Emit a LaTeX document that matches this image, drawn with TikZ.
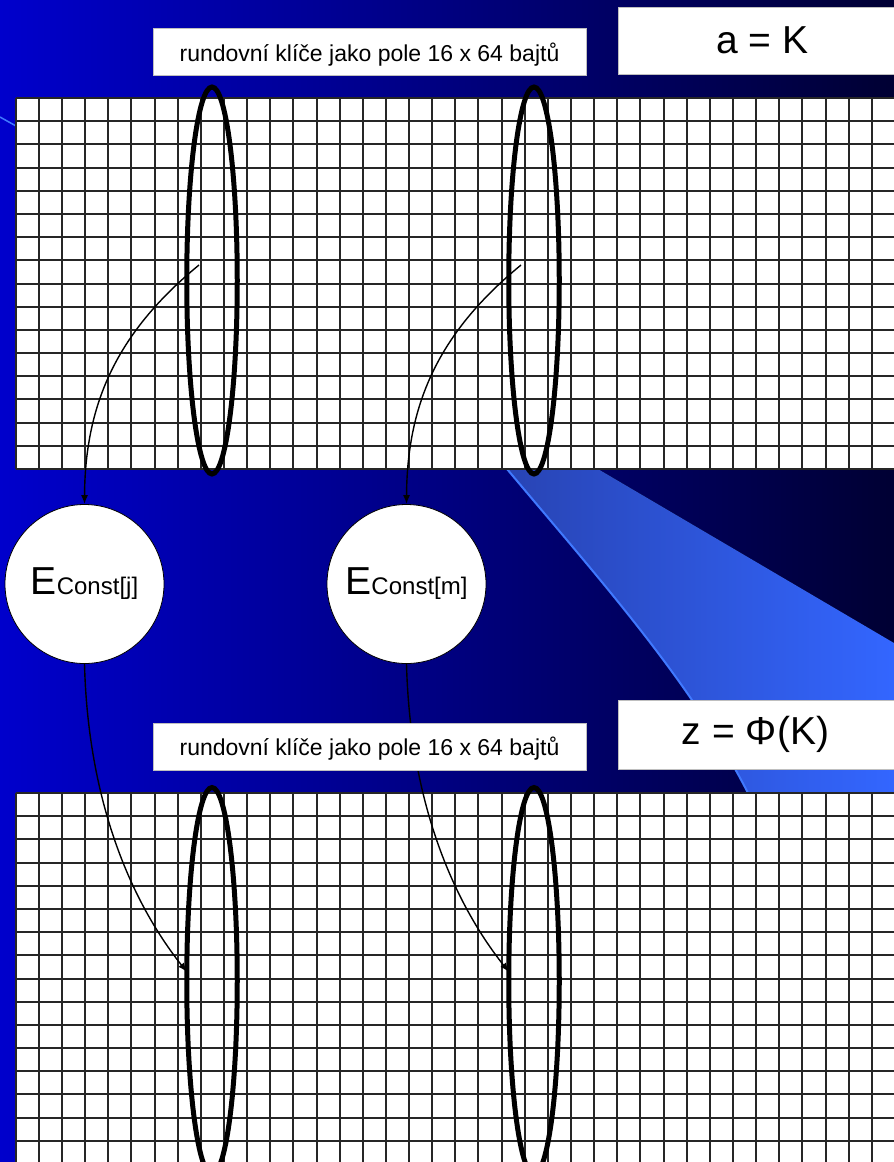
\documentclass[tikz,border=0pt]{standalone}
\usepackage{fontspec}
\setmainfont{Liberation Sans}
\usetikzlibrary{shapes.geometric,arrows.meta}
\definecolor{bgL}{HTML}{0000CC}
\definecolor{bgM}{HTML}{00008E}
\definecolor{bgR}{HTML}{000033}
\definecolor{swL}{HTML}{2844B4}
\definecolor{swR}{HTML}{3366FF}
\definecolor{swEdge}{HTML}{4079FF}
\tikzset{
  gridline/.style={black!85, line width=1.6pt},
  loopmark/.style={draw, ellipse, line width=5pt, minimum width=50.5pt, minimum height=387pt, inner sep=0pt, outer sep=0pt},
  enc/.style={circle, draw, fill=white, line width=0.8pt, minimum size=159pt, inner sep=0pt},
  flow/.style={-{Latex[length=9pt,width=7pt]}, line width=1.4pt},
  labbox/.style={fill=white, draw=gray!50, line width=0.6pt},
  labtext/.style={inner sep=0pt, anchor=base, font=\fontsize{23}{23}\selectfont},
  bigtext/.style={inner sep=0pt, font=\fontsize{39}{39}\selectfont},
}
\begin{document}
\begin{tikzpicture}[x=1pt,y=-1pt]
\useasboundingbox (0,0) rectangle (894,1162);
% background
\fill[left color=bgL, middle color=bgM, right color=bgR] (0,0) rectangle (894,1162);
% swoosh
\fill[left color=swL, right color=swR] (507,469) -- (598,469) -- (894,643) -- (894,793) -- (748,793)
  .. controls (690,680) and (600,580) .. (507,469) -- cycle;
\draw[swEdge, line width=2pt] (507,469) .. controls (600,580) and (690,680) .. (748,793);
\draw[swEdge, line width=1.5pt] (0,117) -- (16,126);
% grids
\fill[white] (15.5,98) rectangle (894,469);
\fill[white] (15.5,793) rectangle (894,1162);
\foreach \i in {0,...,37} {
  \pgfmathsetmacro{\gx}{round(15.7+\i*23.14)}
  \draw[gridline] (\gx,98) -- (\gx,469);
  \draw[gridline] (\gx,793) -- (\gx,1162);
}
\foreach \j in {0,...,16} {
  \pgfmathsetmacro{\gy}{round(98+\j*23.19)}
  \pgfmathsetmacro{\hy}{round(793+\j*23.19)}
  \draw[gridline] (15.5,\gy) -- (894,\gy);
  \draw[gridline] (15.5,\hy) -- (894,\hy);
}
% loops
\node[loopmark] (e1) at (212,280.5) {};
\node[loopmark] (e2) at (534,280.5) {};
\node[loopmark] (e3) at (212,981) {};
\node[loopmark] (e4) at (534,981) {};
% encryption circles
\node[enc] (c1) at (84.5,584) {{\fontsize{39}{39}\selectfont E}{\fontsize{24}{24}\selectfont Const[j]}};
\node[enc] (c2) at (406.5,584) {{\fontsize{39}{39}\selectfont E}{\fontsize{24}{24}\selectfont Const[m]}};
% connectors
\coordinate (s1) at (199,265);
\coordinate (s2) at (521,265);
\draw[flow] (s1) .. controls (120,330) and (85,400) .. (c1.north);
\draw[flow] (s2) .. controls (442,330) and (407,400) .. (c2.north);
\draw[flow] (c1.south) .. controls (88,800) and (130,900) .. (e3.160);
\draw[flow] (c2.south) .. controls (410,800) and (452,900) .. (e4.160);
% labels
\path[labbox] (153.5,28.5) rectangle (586.5,75);
\node[labtext] (t1) at (369.5,61) {rundovní klíče jako pole 16 x 64 bajtů};
\path[labbox] (618,7) rectangle (910,74);
\node[bigtext] (t2) at (762.5,40.5) {a = K};
\path[labbox] (153.5,723) rectangle (586.5,770);
\node[labtext] (t3) at (369.5,755.5) {rundovní klíče jako pole 16 x 64 bajtů};
\path[labbox] (618,700) rectangle (910,769);
\node[bigtext] (t4) at (755.5,734.5) {z = Φ(K)};
\end{tikzpicture}
\end{document}
